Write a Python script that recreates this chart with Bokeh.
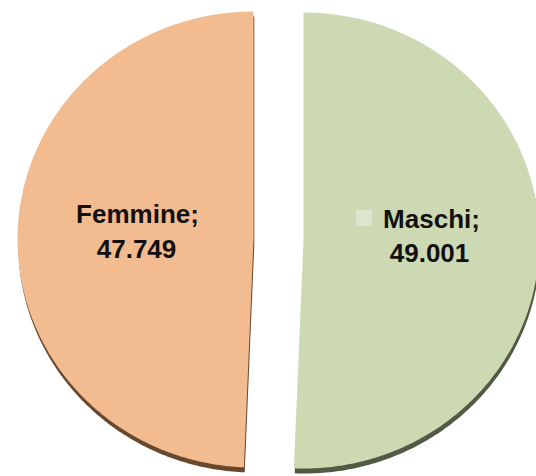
import numpy as np
from bokeh.plotting import figure
from bokeh.models import ColumnDataSource, Range1d
from bokeh.core.properties import value
from bokeh.embed import file_html
from bokeh.resources import INLINE

# ---- data ----
categories = ["Maschi", "Femmine"]
values = [49001, 47749]
colors = ["#CDD9B3", "#F2BB90"]
shadow_colors = ["#525A43", "#6A482D"]
legend_color = "#DDE5CE"

def fmt(v):
    return f"{v:,}".replace(",", ".")

# ---- layout params (pixels) ----
W, H = 536, 476
cx, cy = 278.0, 236.5      # pie centre
rx, ry = 236.0, 228.0      # radii
explode = 25.0
shadow_dy = 5.0
text_dy = 9.0

p = figure(width=W, height=H, output_backend="svg", toolbar_location=None,
           x_range=Range1d(0, W), y_range=Range1d(0, H), min_border=0)
p.axis.visible = False
p.grid.visible = False
p.outline_line_color = None
p.background_fill_color = "white"
p.border_fill_color = "white"

total = float(sum(values))
start = np.pi / 2
xs, ys, sxs, sys_, origins = [], [], [], [], []
for v in values:
    sweep = 2 * np.pi * v / total
    end = start - sweep
    mid = (start + end) / 2
    ox, oy = cx + explode * np.cos(mid), cy + explode * np.sin(mid)
    th = np.linspace(start, end, 240)
    px = np.concatenate([[ox], ox + rx * np.cos(th)])
    py = np.concatenate([[oy], oy + ry * np.sin(th)])
    xs.append(list(px)); ys.append(list(py))
    sxs.append(list(px + 0.8)); sys_.append(list(py - shadow_dy))
    origins.append((ox, oy))
    start = end

p.patches(xs=sxs, ys=sys_, fill_color=shadow_colors, line_color=None)
p.patches(xs=xs, ys=ys, fill_color=colors, line_color=None)

(m_ox, m_oy), (f_ox, f_oy) = origins
src = ColumnDataSource(dict(
    x=[m_ox + 128, m_ox + 126, f_ox - 116, f_ox - 117],
    y=[cy + 12.5 + text_dy, cy - 21.5 + text_dy, cy + 17.5 + text_dy, cy - 17.5 + text_dy],
    t=[categories[0] + ";", fmt(values[0]), categories[1] + ";", fmt(values[1])],
))
p.text(x="x", y="y", text="t", source=src, text_font=value("Liberation Sans"),
       text_font_size="26px", text_font_style="bold", text_color="#111111",
       text_align="center", text_baseline="alphabetic")
p.scatter(x=[m_ox + 60.5], y=[cy + 22], marker="square", size=16,
          fill_color=legend_color, line_color=None)

open("out.html", "w").write(file_html(p, INLINE))
